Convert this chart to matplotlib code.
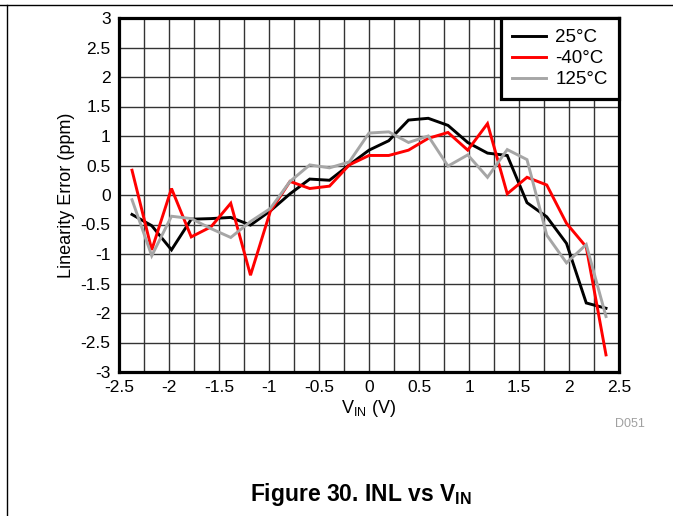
import numpy as np
import matplotlib
matplotlib.use("Agg")
import matplotlib.pyplot as plt
from matplotlib.lines import Line2D

plt.rcParams['font.family'] = ['Liberation Sans', 'DejaVu Sans']

vin = [-2.37, -2.1725, -1.975, -1.7775, -1.58, -1.3825, -1.185, -0.9875,
       -0.79, -0.5925, -0.395, -0.1975, 0.0, 0.1975, 0.395, 0.5925,
       0.79, 0.9875, 1.185, 1.3825, 1.58, 1.7775, 1.975, 2.1725, 2.37]

inl_25 = [-0.33, -0.52, -0.93, -0.41, -0.40, -0.38, -0.51, -0.27,
          0.02, 0.27, 0.25, 0.51, 0.76, 0.92, 1.27, 1.30,
          1.18, 0.89, 0.71, 0.67, -0.13, -0.37, -0.82, -1.83, -1.92]

inl_m40 = [0.42, -0.93, 0.11, -0.71, -0.54, -0.14, -1.36, -0.28,
           0.23, 0.11, 0.15, 0.51, 0.67, 0.67, 0.76, 0.96,
           1.06, 0.76, 1.21, 0.02, 0.30, 0.17, -0.48, -0.88, -2.71]

inl_125 = [-0.08, -1.03, -0.36, -0.40, -0.57, -0.72, -0.45, -0.23,
           0.23, 0.51, 0.46, 0.56, 1.05, 1.07, 0.89, 1.00,
           0.49, 0.68, 0.30, 0.77, 0.60, -0.68, -1.15, -0.84, -2.06]

series_labels = ['25°C', '-40°C', '125°C']
series_colors = ['#000000', '#ff0000', '#a6a6a6']

x_ticks = [-2.5, -2, -1.5, -1, -0.5, 0, 0.5, 1, 1.5, 2, 2.5]
x_tick_labels = ['-2.5', '-2', '-1.5', '-1', '-0.5', '0', '0.5', '1', '1.5', '2', '2.5']
y_ticks = [-3, -2.5, -2, -1.5, -1, -0.5, 0, 0.5, 1, 1.5, 2, 2.5, 3]
y_tick_labels = ['-3', '-2.5', '-2', '-1.5', '-1', '-0.5', '0', '0.5', '1', '1.5', '2', '2.5', '3']

W, H = 673, 516
fig = plt.figure(figsize=(W / 100, H / 100), dpi=100)
ax = fig.add_axes([119 / W, 1 - 372 / H, 500 / W, 354 / H])

for y, lab, c in zip([inl_25, inl_m40, inl_125], series_labels, series_colors):
    ax.plot(vin, y, color=c, lw=2.1, label=lab, zorder=3, solid_joinstyle='miter')

ax.set_xlim(-2.5, 2.5)
ax.set_ylim(-3, 3)
ax.set_xticks(x_ticks)
ax.set_xticklabels(x_tick_labels, fontsize=12.5)
ax.set_yticks(y_ticks)
ax.set_yticklabels(y_tick_labels, fontsize=12.5)
ax.set_xticks(np.arange(-2.25, 2.5, 0.5), minor=True)
ax.tick_params(which='both', length=0, pad=6)
ax.grid(True, which='major', axis='both', color='#333333', lw=1.0, zorder=1)
ax.grid(True, which='minor', axis='x', color='#333333', lw=1.0, zorder=1)
for s in ax.spines.values():
    s.set_linewidth(2.3)
    s.set_zorder(4)

ax.set_ylabel('Linearity Error (ppm)', fontsize=13, labelpad=4)
ax.set_xlabel('V$_{\\mathregular{IN}}$ (V)', fontsize=13, labelpad=2)

leg = ax.legend(loc='upper right', fontsize=13.5, frameon=True, fancybox=False,
                edgecolor='black', framealpha=1, borderpad=0.6,
                handlelength=1.8, handletextpad=0.5, labelspacing=0.2,
                borderaxespad=0.0)
leg.get_frame().set_linewidth(2.3)
leg.set_zorder(5)

fig.text(630 / W, 1 - 424 / H, 'D051', fontsize=9, color='#a0a0a0',
         ha='center', va='center')
fig.text(361 / W, 1 - 495 / H, 'Figure 30. INL vs V$_{\\mathregular{IN}}$',
         fontsize=16.5, fontweight='bold', ha='center', va='center')

fig.add_artist(Line2D([0, 1], [1 - 5 / H, 1 - 5 / H], color='black', lw=1.0,
                      transform=fig.transFigure))
fig.add_artist(Line2D([7 / W, 7 / W], [0, 1 - 5 / H], color='black', lw=1.0,
                      transform=fig.transFigure))

fig.savefig('out.png', dpi=100)
